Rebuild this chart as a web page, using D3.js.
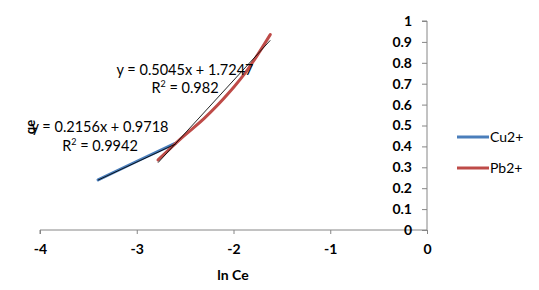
<!DOCTYPE html>
<html>
<head>
<meta charset="utf-8">
<script src="https://cdn.jsdelivr.net/npm/d3@7"></script>
<style>
  body { margin: 0; background: #fff; }
  svg text { font-family: Lato, "Open Sans", sans-serif; }
</style>
</head>
<body>
<svg id="chart" width="539" height="290"></svg>
<script>
// data
const cuX = [-3.40, -2.97, -2.60]
const cuY = [0.24, 0.335, 0.415]
const pbX = [-2.78, -2.55, -2.30, -2.05, -1.85, -1.62]
const pbY = [0.335, 0.435, 0.535, 0.655, 0.77, 0.935]
const seriesNames = ['Cu2+', 'Pb2+']
const seriesColors = ['#4A7EBB', '#BE4B48']
const trendCoef = [[0.2156, 0.9718], [0.5045, 1.7247]]
const trendR2 = ['0.9942', '0.982']
const xTicks = [-4, -3, -2, -1, 0]
const yTicks = [0, 0.1, 0.2, 0.3, 0.4, 0.5, 0.6, 0.7, 0.8, 0.9, 1]

const svg = d3.select('#chart')

const x = d3.scaleLinear().domain([-4, 0]).range([40, 427])
const y = d3.scaleLinear().domain([0, 1]).range([230, 21])

const axisColor = '#868686'

// x axis
const xAxisG = svg.append('g')
  .attr('transform', `translate(0,${y(0)})`)
  .call(d3.axisBottom(x).tickValues(xTicks).tickSize(4).tickPadding(10).tickFormat(d3.format('d')))
xAxisG.select('.domain').attr('stroke', axisColor).attr('d', `M${x(-4)},4V0H${x(0)}`)
xAxisG.selectAll('line').attr('stroke', axisColor)
xAxisG.selectAll('text').attr('font-size', 14).attr('font-weight', 'bold').attr('fill', '#000')
  .text(d => d < 0 ? '-' + Math.abs(d) : d)

// y axis
const yAxisG = svg.append('g')
  .attr('transform', `translate(${x(0)},0)`)
  .call(d3.axisLeft(y).tickValues(yTicks).tickSize(5).tickPadding(10).tickFormat(d => d === 0 || d === 1 ? d : d3.format('.1f')(d)))
yAxisG.select('.domain').attr('stroke', axisColor).attr('d', `M-5,${y(1)}H0V${y(0)}`)
yAxisG.selectAll('line').attr('stroke', axisColor)
yAxisG.selectAll('text').attr('font-size', 14).attr('font-weight', 'bold').attr('fill', '#000')

// axis titles
svg.append('text')
  .attr('x', 233).attr('y', 280)
  .attr('text-anchor', 'middle')
  .attr('font-size', 14).attr('font-weight', 'bold')
  .text('ln Ce')

svg.append('text')
  .attr('transform', 'translate(35,127) rotate(-90)')
  .attr('text-anchor', 'middle')
  .attr('font-size', 13).attr('font-weight', 'bold')
  .text('qe')

// series
const line = d3.line()
  .x(d => x(d[0]))
  .y(d => y(d[1]))
  .curve(d3.curveMonotoneX)

const series = [d3.zip(cuX, cuY), d3.zip(pbX, pbY)]

series.forEach((pts, i) => {
  svg.append('path')
    .datum(pts)
    .attr('d', line)
    .attr('fill', 'none')
    .attr('stroke', seriesColors[i])
    .attr('stroke-width', 3)
    .attr('stroke-linecap', 'round')
})

// linear trendlines
series.forEach((pts, i) => {
  const [m, b] = trendCoef[i]
  const x0 = d3.min(pts, d => d[0]), x1 = d3.max(pts, d => d[0])
  svg.append('line')
    .attr('x1', x(x0)).attr('y1', y(m * x0 + b))
    .attr('x2', x(x1)).attr('y2', y(m * x1 + b))
    .attr('stroke', '#000')
    .attr('stroke-width', 1)
    .attr('opacity', 0.85)
})

// equation labels
const eqPos = [[100, 132, 151], [185, 75, 93]]
trendCoef.forEach(([m, b], i) => {
  const [cx, y1, y2] = eqPos[i]
  svg.append('text')
    .attr('x', cx).attr('y', y1)
    .attr('text-anchor', 'middle').attr('font-size', 14.5)
    .text(`y = ${m}x + ${b}`)
  const t = svg.append('text')
    .attr('x', cx).attr('y', y2)
    .attr('text-anchor', 'middle').attr('font-size', 14.5)
  t.append('tspan').text('R')
  t.append('tspan').attr('font-size', 9).attr('dy', -6).text('2')
  t.append('tspan').attr('dy', 6).text(' = ' + trendR2[i])
})

// legend
const legendY = [137, 168]
seriesNames.forEach((name, i) => {
  svg.append('line')
    .attr('x1', 457).attr('x2', 489)
    .attr('y1', legendY[i]).attr('y2', legendY[i])
    .attr('stroke', seriesColors[i]).attr('stroke-width', 3)
  svg.append('text')
    .attr('x', 490).attr('y', legendY[i] + 5)
    .attr('font-size', 14)
    .text(name)
})
</script>
</body>
</html>
